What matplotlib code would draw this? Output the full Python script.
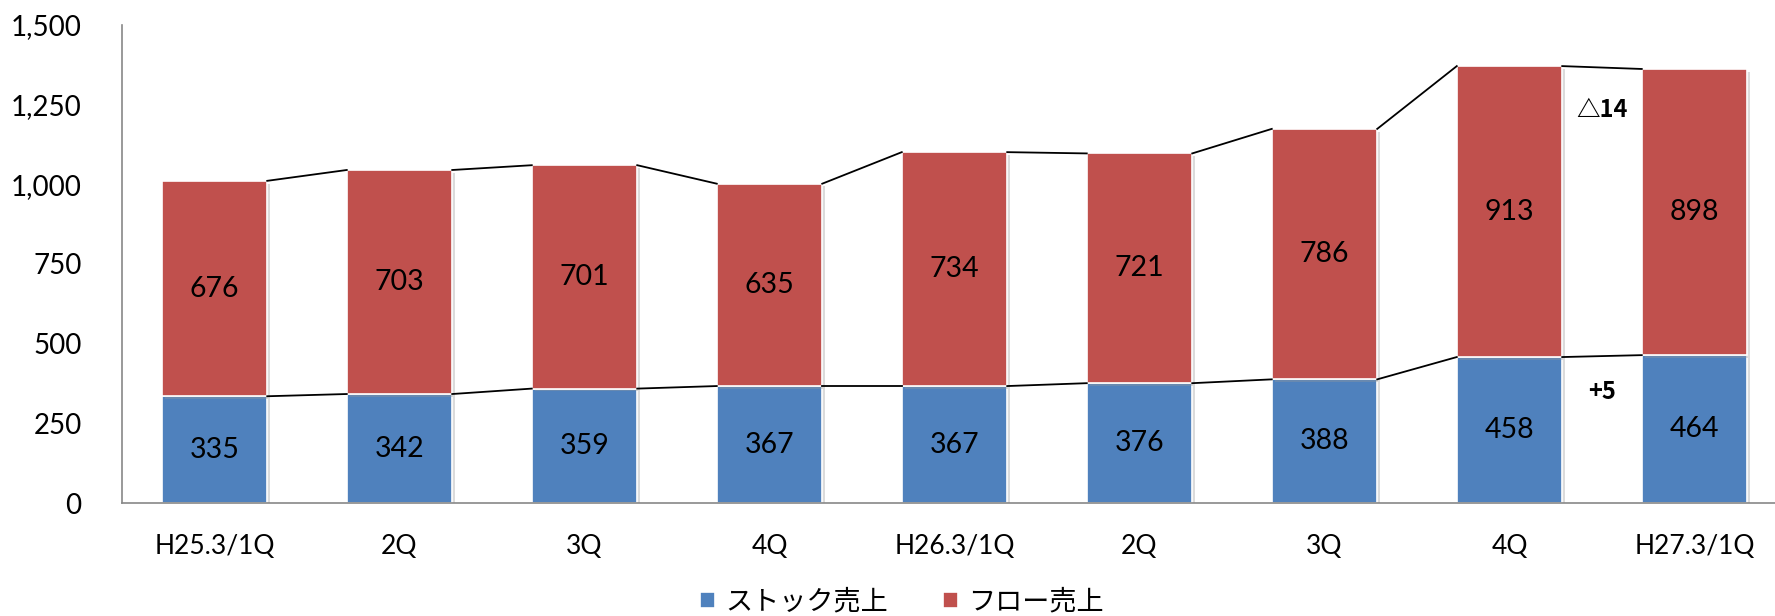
import matplotlib
matplotlib.use("Agg")
import matplotlib.pyplot as plt
import matplotlib.patheffects as pe
import numpy as np

# Data
labels = ['H25.3/1Q', '2Q', '3Q', '4Q', 'H26.3/1Q', '2Q', '3Q', '4Q', 'H27.3/1Q']
stock = [335, 342, 359, 367, 367, 376, 388, 458, 464]
flow = [676, 703, 701, 635, 734, 721, 786, 913, 898]
series_names = ['ストック売上', 'フロー売上']
notes = ['△14', '+5']
note_x = [7.5, 7.5]
note_y = [1233, 348]

plt.rcParams['font.family'] = ['Lato', 'Noto Sans CJK JP', 'DejaVu Sans']

x = np.arange(len(labels))
width = 0.57
stock_top = np.array(stock)
total_top = stock_top + np.array(flow)

fig = plt.figure(figsize=(17.75, 6.16), dpi=100)
ax = fig.add_axes([122 / 1775, 113 / 616, 1665 / 1775, 478 / 616])

shadow = [pe.SimplePatchShadow(offset=(2, -2), shadow_rgbFace='#999999', alpha=0.35), pe.Normal()]
bars1 = ax.bar(x, stock, width, color='#4F81BD', edgecolor='white', linewidth=1.2,
               label=series_names[0], path_effects=shadow, zorder=2)
bars2 = ax.bar(x, flow, width, bottom=stock, color='#C0504D', edgecolor='white', linewidth=1.2,
               label=series_names[1], path_effects=shadow, zorder=2)

# Value labels inside segments
for i in range(len(x)):
    ax.text(x[i], stock[i] / 2, f'{stock[i]}', ha='center', va='center', fontsize=20.5, zorder=4)
    ax.text(x[i], stock[i] + flow[i] / 2, f'{flow[i]}', ha='center', va='center', fontsize=20.5, zorder=4)

# Connector lines between bar tops
for i in range(len(x) - 1):
    for tops in (stock_top, total_top):
        ax.plot([x[i] + width / 2, x[i + 1] - width / 2], [tops[i], tops[i + 1]],
                color='black', linewidth=1.3, zorder=3)

# Change annotations
for t, nx, ny in zip(notes, note_x, note_y):
    ax.text(nx, ny, t, ha='center', va='center', fontsize=17, fontweight='bold',
            family=['Noto Sans CJK JP', 'DejaVu Sans'])

ax.set_xlim(-0.5, len(labels) - 0.5)
ax.set_ylim(0, 1500)
ax.set_yticks([0, 250, 500, 750, 1000, 1250, 1500])
ax.set_yticklabels(['0', '250', '500', '750', '1,000', '1,250', '1,500'])
ax.set_xticks(x)
ax.set_xticklabels(labels)
ax.tick_params(axis='y', length=0, pad=29, labelsize=20)
ax.tick_params(axis='x', length=0, pad=22, labelsize=19)

for s in ['top', 'right']:
    ax.spines[s].set_visible(False)
ax.spines['left'].set_color('#888888')
ax.spines['bottom'].set_color('#888888')
ax.spines['left'].set_linewidth(1.2)
ax.spines['bottom'].set_linewidth(1.2)

leg = fig.legend(handles=[bars1, bars2], labels=series_names, loc='center',
                 bbox_to_anchor=(902 / 1775, 14 / 616), ncol=2, frameon=False,
                 handlelength=0.55, handleheight=0.55, handletextpad=0.4,
                 columnspacing=2.0, prop={'family': ['Noto Sans CJK JP'], 'size': 19.5})
for h in leg.legend_handles:
    h.set_path_effects([])

fig.savefig('out.png', dpi=100)
